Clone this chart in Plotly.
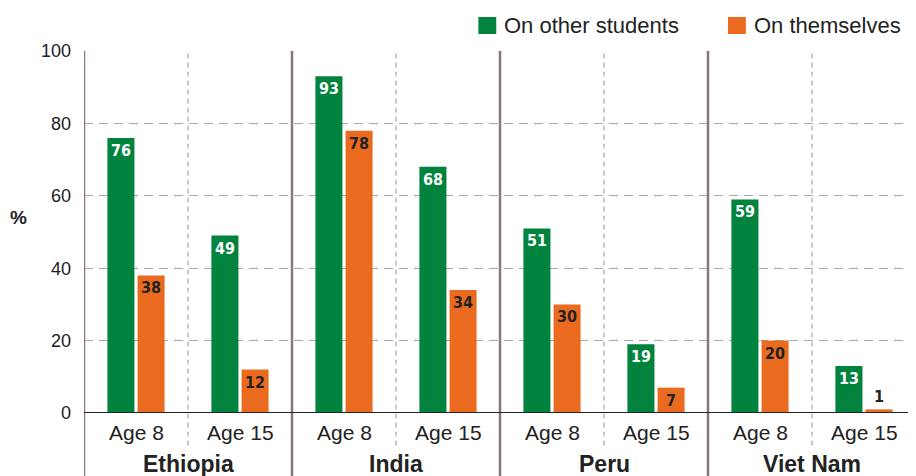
import plotly.graph_objects as go

countries = ["Ethiopia", "India", "Peru", "Viet Nam"]
ages = ["Age 8", "Age 15"]
on_others = [76, 49, 93, 68, 51, 19, 59, 13]
on_themselves = [38, 12, 78, 34, 30, 7, 20, 1]
y_ticks = [0, 20, 40, 60, 80, 100]
series_names = ["On other students", "On themselves"]

GREEN = "#00843D"
ORANGE = "#EA6B1F"
FONT = "Liberation Sans"
LBL_FONT = "DejaVu Sans Condensed"

n = len(on_others)
centers = [i + 0.5 for i in range(n)]
off = 0.145
bw = 0.26

def positions(vals):
    return ["outside" if v < 5 else "inside" for v in vals]

fig = go.Figure()
for vals, color, name, sign, tcol in [(on_others, GREEN, series_names[0], -1, "white"),
                                      (on_themselves, ORANGE, series_names[1], 1, "#222")]:
    fig.add_trace(go.Bar(
        x=[c + sign * off for c in centers], y=vals, width=bw,
        marker=dict(color=color, line=dict(width=0)),
        name=name, showlegend=False,
        text=[f"<b>{v}</b>" for v in vals],
        textposition=positions(vals), insidetextanchor="end", textangle=0,
        constraintext="none", cliponaxis=False,
        insidetextfont=dict(family=LBL_FONT, size=16, color=tcol),
        outsidetextfont=dict(family=LBL_FONT, size=16, color="#222"),
    ))

shapes = []
for i in range(len(countries)):
    shapes.append(dict(type="line", xref="x", yref="paper", x0=2 * i, x1=2 * i,
                       y0=-0.2, y1=1, line=dict(color="#8c7676", width=2.5), layer="above"))
    shapes.append(dict(type="line", xref="x", yref="paper", x0=2 * i + 1, x1=2 * i + 1,
                       y0=-0.09, y1=1, line=dict(color="#a08c8c", width=1, dash="5px,4px"),
                       layer="below"))
shapes.append(dict(type="line", xref="paper", yref="y", x0=0, x1=1, y0=0, y1=0,
                   line=dict(color="#222", width=2), layer="above"))

# legend (drawn manually)
leg = [(0.474, GREEN, series_names[0]), (0.774, ORANGE, series_names[1])]
annotations = []
for x0, color, name in leg:
    shapes.append(dict(type="rect", xref="paper", yref="paper", x0=x0, x1=x0 + 0.0215,
                       y0=1.047, y1=1.094, fillcolor=color, line=dict(width=0)))
    annotations.append(dict(x=x0 + 0.029, y=1.071, xref="paper", yref="paper", text=name,
                            showarrow=False, xanchor="left", yanchor="middle",
                            font=dict(family=FONT, size=22, color="#222")))

for i, c in enumerate(countries):
    annotations.append(dict(x=2 * i + 1, y=-0.142, xref="x", yref="paper", text=f"<b>{c}</b>",
                            showarrow=False, yanchor="middle",
                            font=dict(family=FONT, size=23, color="#222")))
    for j, a in enumerate(ages):
        annotations.append(dict(x=2 * i + j + 0.5, y=-0.055, xref="x", yref="paper", text=a,
                                showarrow=False, yanchor="middle",
                                font=dict(family=FONT, size=21, color="#222")))
annotations.append(dict(x=-0.079, y=0.539, xref="paper", yref="paper", text="<b>%</b>",
                        showarrow=False, xanchor="center", yanchor="middle",
                        font=dict(family=FONT, size=19, color="#222")))

fig.update_layout(
    width=908, height=468,
    margin=dict(l=76, r=0, t=43, b=63, autoexpand=False),
    plot_bgcolor="white", paper_bgcolor="white",
    barmode="overlay",
    showlegend=False,
    xaxis=dict(range=[0, 8], showticklabels=False, showgrid=False, zeroline=False,
               showline=False, ticks="", automargin=False),
    yaxis=dict(range=[0, 100], tickvals=y_ticks, showgrid=True, gridcolor="#a9a9a9",
               griddash="9px,6px", gridwidth=1.2, zeroline=False, showline=False, ticks="",
               tickfont=dict(family=FONT, size=18, color="#222"), ticklabelstandoff=12,
               automargin=False),
    shapes=shapes,
    annotations=annotations,
)

fig.write_html("out.html")
